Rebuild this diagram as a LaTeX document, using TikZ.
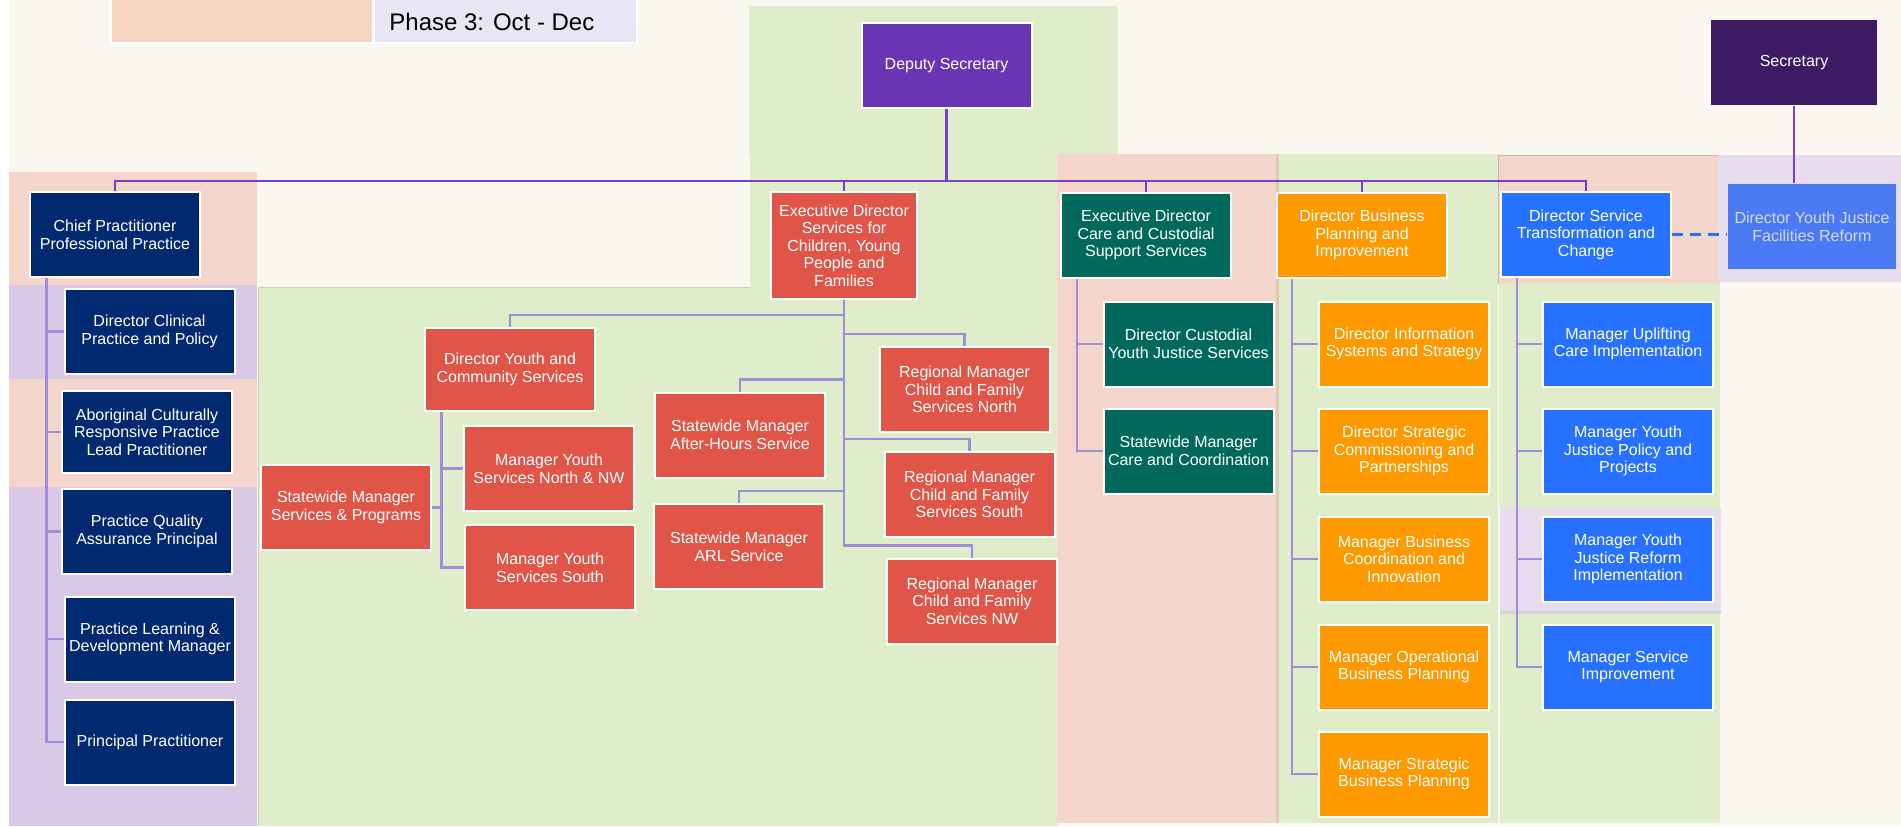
\documentclass[tikz,border=0pt]{standalone}
\usepackage{fontspec}
\setmainfont{Liberation Sans}
\usetikzlibrary{calc}
\definecolor{creambg}{HTML}{FAF7F0}
\definecolor{phgreen}{HTML}{E0EDCB}
\definecolor{phpink}{HTML}{F3D5CC}
\definecolor{phlilac}{HTML}{D9C9E6}
\definecolor{phmauve}{HTML}{E7DDEE}
\definecolor{phpeach}{HTML}{F5D5BF}
\definecolor{phlegend}{HTML}{EAE5F4}
\definecolor{phrule}{HTML}{DCCDB2}
\definecolor{dsviolet}{HTML}{6A35B3}
\definecolor{secplum}{HTML}{3C1B64}
\definecolor{ppnavy}{HTML}{00296F}
\definecolor{cyred}{HTML}{E05548}
\definecolor{ccteal}{HTML}{00695C}
\definecolor{bporange}{HTML}{FF9900}
\definecolor{stblue}{HTML}{2671FF}
\definecolor{yjblue}{HTML}{4A7BF4}
\definecolor{yjtext}{HTML}{D5D9F7}
\definecolor{busc}{HTML}{7A3EC9}
\definecolor{twigc}{HTML}{A38BDB}

\begin{document}
\begin{tikzpicture}[
  x=0.5pt, y=-0.5pt,
  role/.style={draw=white, line width=1pt, text=white, align=center,
    minimum width=85pt, minimum height=42.5pt, inner sep=1pt,
    font=\fontsize{8}{8.8}\selectfont},
  bus/.style={draw=busc, line width=1.4pt},
  twig/.style={draw=twigc, line width=1.2pt},
]
\useasboundingbox (0,0) rectangle (1901,826);

% Background and phase panels
\fill[creambg] (9,0) rectangle (1901,826);
\fill[phgreen] (749,6) rectangle (1118,155);
\fill[phgreen] (750,154) rectangle (1058,288);
\fill[phgreen] (258,287) rectangle (1058,826);
\draw[phgreen!88!black, line width=0.4pt] (258,826) -- (258,287) -- (750,287);
\fill[phpink] (9,172) rectangle (257,285);
\fill[phlilac] (9,285) rectangle (257,379);
\fill[phpink] (9,379) rectangle (257,487);
\fill[phlilac] (9,487) rectangle (257,826);
\fill[phpink] (1057,154) rectangle (1278,823);
\fill[phgreen] (1278,154) rectangle (1498,823);
\draw[phrule, line width=1.2pt] (1277.5,154) -- (1277.5,823);
\fill[phpink] (1498,155) rectangle (1718,283);
\draw[phpink!85!black, line width=0.4pt] (1498,155) rectangle (1718,283);
\fill[phgreen] (1499,283) rectangle (1720,508);
\fill[phgreen] (1500,613) rectangle (1720,823);
\fill[phmauve] (1500,508) rectangle (1721,613);
\draw[black!17, line width=1.5pt] (1500,612) -- (1721,612);
\fill[phmauve] (1718,155) rectangle (1901,282);

% Legend
\filldraw[fill=phpeach, draw=white, line width=1pt] (111,-2) rectangle (373,43);
\filldraw[fill=phlegend, draw=white, line width=1pt] (374,-2) rectangle (637,43);
\node[anchor=base west, inner sep=0pt, font=\fontsize{12}{14}\selectfont] (phase) at (389,30) {Phase 3: Oct - Dec};

% =============================================
% Top of the chart
% =============================================
\node[role, fill=dsviolet] (ds) at (946.5,65.5) {Deputy Secretary};
\node[role, draw=none, fill=secplum, minimum width=83pt] (sec) at (1794,62.5) {Secretary};
\node[role, draw=none, fill=yjblue, text=yjtext, minimum width=84pt] (dyj) at (1812,226.5)
  {Director Youth Justice\\Facilities Reform};

% Professional practice (left column)
\node[role, fill=ppnavy] (chief) at (115,234.5) {Chief Practitioner\\Professional Practice};
\node[role, fill=ppnavy] (clin) at (149.5,331.5) {Director Clinical\\Practice and Policy};
\node[role, fill=ppnavy, minimum height=41pt] (abor) at (147,432)
  {Aboriginal Culturally\\Responsive Practice\\Lead Practitioner};
\node[role, fill=ppnavy] (pqa) at (147,531.5) {Practice Quality\\Assurance Principal};
\node[role, fill=ppnavy] (pld) at (150,639) {Practice Learning \&\\Development Manager};
\node[role, fill=ppnavy] (pp) at (150,742) {Principal Practitioner};

% =============================================
% Services for Children, Young People and Families
% =============================================
\node[role, fill=cyred, minimum width=73pt, minimum height=53.5pt] (edcs) at (844,245.5)
  {Executive Director\\Services for\\Children, Young\\People and\\Families};
\node[role, fill=cyred, minimum height=41.5pt] (dyc) at (510,369.5)
  {Director Youth and\\Community Services};
\node[role, fill=cyred] (mysn) at (549,468.5) {Manager Youth\\Services North \& NW};
\node[role, fill=cyred] (myss) at (550,567.5) {Manager Youth\\Services South};
\node[role, fill=cyred] (smsp) at (346,507.5) {Statewide Manager\\Services \& Programs};
\node[role, fill=cyred] (smah) at (740,435) {Statewide Manager\\After-Hours Service};
\node[role, fill=cyred] (smarl) at (739,546.5) {Statewide Manager\\ARL Service};
\node[role, fill=cyred] (rmn) at (964.5,389.5) {Regional Manager\\Child and Family\\Services North};
\node[role, fill=cyred] (rms) at (969.5,494.5) {Regional Manager\\Child and Family\\Services South};
\node[role, fill=cyred] (rmnw) at (972,601) {Regional Manager\\Child and Family\\Services NW};

% =============================================
% Care, business planning, service transformation
% =============================================
\node[role, fill=ccteal] (edcc) at (1146,235) {Executive Director\\Care and Custodial\\Support Services};
\node[role, fill=ccteal] (dcyj) at (1188.5,344) {Director Custodial\\Youth Justice Services};
\node[role, fill=ccteal] (smcc) at (1188.5,451) {Statewide Manager\\Care and Coordination};

\node[role, fill=bporange] (dbpi) at (1362,235) {Director Business\\Planning and\\Improvement};
\node[role, fill=bporange] (dist) at (1404,344) {Director Information\\Systems and Strategy};
\node[role, fill=bporange] (dscp) at (1404,451) {Director Strategic\\Commissioning and\\Partnerships};
\node[role, fill=bporange] (mbci) at (1404,559) {Manager Business\\Coordination and\\Innovation};
\node[role, fill=bporange] (mobp) at (1404,667) {Manager Operational\\Business Planning};
\node[role, fill=bporange] (msbp) at (1404,774) {Manager Strategic\\Business Planning};

\node[role, fill=stblue] (dstc) at (1586,234.5) {Director Service\\Transformation and\\Change};
\node[role, fill=stblue] (muci) at (1628,344) {Manager Uplifting\\Care Implementation};
\node[role, fill=stblue] (myjp) at (1628,451) {Manager Youth\\Justice Policy and\\Projects};
\node[role, fill=stblue] (myjr) at (1628,559) {Manager Youth\\Justice Reform\\Implementation};
\node[role, fill=stblue] (msi) at (1628,667) {Manager Service\\Improvement};

% Connectors
\coordinate (busmid) at (946.5,181);
\draw[bus] (ds.south) -- (busmid);
\foreach \n in {chief,edcs,edcc,dbpi,dstc}
  \draw[bus] (busmid) -| (\n.north);
\draw[bus] (sec.south) -- (sec.south |- dyj.north);
\draw[draw=stblue, line width=1.1pt, dash pattern=on 5.5pt off 3.5pt] (dstc.east) -- (dstc.east -| dyj.west);

\foreach \n in {clin,abor,pqa,pld,pp}
  \draw[twig] ([xshift=8.75pt]chief.south west) |- (\n.west);
\foreach \n in {dyc,smah,smarl,rmn,rms,rmnw}
  \draw[twig] (edcs.south) |- ([yshift=6pt]\n.north) -- (\n.north);
\foreach \n/\side in {mysn/west,myss/west,smsp/east}
  \draw[twig] ([xshift=8.75pt]dyc.south west) |- (\n.\side);
\foreach \n in {dcyj,smcc}
  \draw[twig] ([xshift=8.5pt]edcc.south west) |- (\n.west);
\foreach \n in {dist,dscp,mbci,mobp,msbp}
  \draw[twig] ([xshift=8pt]dbpi.south west) |- (\n.west);
\foreach \n in {muci,myjp,myjr,msi}
  \draw[twig] ([xshift=8.5pt]dstc.south west) |- (\n.west);

\end{tikzpicture}
\end{document}
